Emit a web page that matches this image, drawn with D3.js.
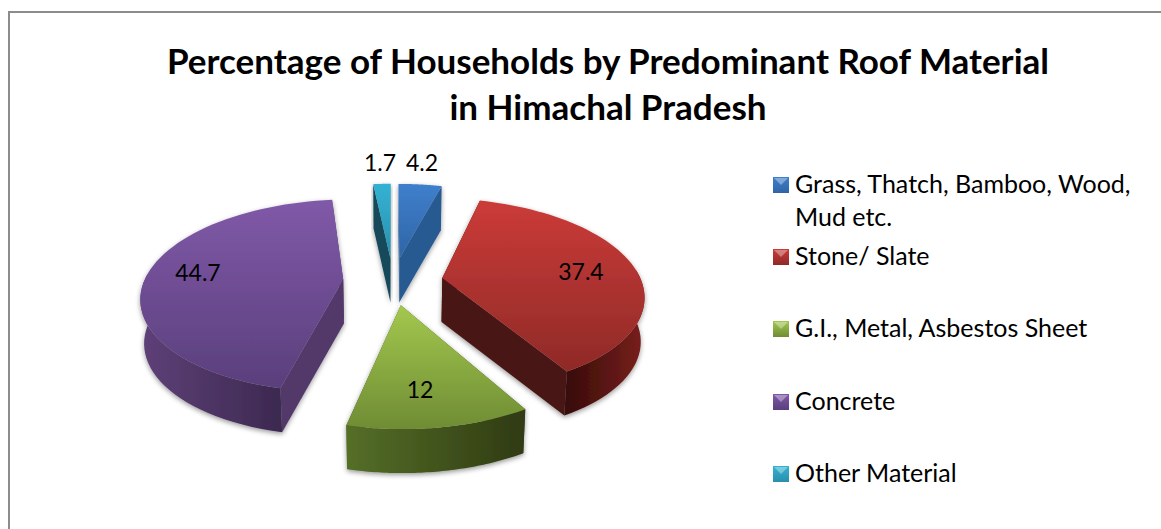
<!DOCTYPE html>
<html>
<head>
<meta charset="utf-8">
<script src="https://cdnjs.cloudflare.com/ajax/libs/d3/7.8.5/d3.min.js"></script>
<style>
  html, body { margin: 0; padding: 0; background: #fff; }
  svg { display: block; }
  text { font-family: Lato, "Open Sans", sans-serif; fill: #000; }
</style>
</head>
<body>
<div id="chart"></div>
<script>
var titleLines = ["Percentage of Households by Predominant Roof Material", "in Himachal Pradesh"];
var categories = ["Grass, Thatch, Bamboo, Wood, Mud etc.", "Stone/ Slate", "G.I., Metal, Asbestos Sheet", "Concrete", "Other Material"];
var values = [4.2, 37.4, 12, 44.7, 1.7];
var legendLines = [["Grass, Thatch, Bamboo, Wood,", "Mud etc."], ["Stone/ Slate"], ["G.I., Metal, Asbestos Sheet"], ["Concrete"], ["Other Material"]];
// top light, top dark, wall left, wall right, cut face
var colors = [
  ["#3f7fcc", "#2f65a6", "#2c6299", "#234b78", "#285a90"],
  ["#cb3b38", "#8f2a27", "#360b09", "#7a201c", "#4a1512"],
  ["#a3c84e", "#6f8c34", "#556f28", "#2f3a12", "#3f5219"],
  ["#8059a8", "#5a3f7c", "#5e4078", "#3c2950", "#52376b"],
  ["#33b2d4", "#2a8fab", "#1d6277", "#123f4d", "#164a5a"]
];

var width = 1161, height = 529;
var cx = 393, cy = 281, radius = 199, explode = 50, depth = 44;
var tilt = 0.472, persp = 0.000838, baseShrink = 0.985;

var svg = d3.select("#chart").append("svg")
    .attr("width", width).attr("height", height)
    .attr("viewBox", "0 0 " + width + " " + height);

var defs = svg.append("defs");

// frame, only left and top edges are inside the crop
svg.append("path")
    .attr("d", "M9," + height + "V12H" + width)
    .attr("fill", "none").attr("stroke", "#8c8c8c").attr("stroke-width", 2);

svg.selectAll("text.title")
    .data(titleLines).enter().append("text")
    .attr("class", "title")
    .attr("x", 608)
    .attr("y", function(d, i){ return 74 + i * 46; })
    .attr("text-anchor", "middle")
    .attr("font-size", 35)
    .attr("font-weight", 700)
    .text(function(d){ return d; });

var shadow = defs.append("filter").attr("id", "shadow")
    .attr("x", "-10%").attr("y", "-10%").attr("width", "120%").attr("height", "125%");
shadow.append("feDropShadow")
    .attr("dx", 0).attr("dy", 2).attr("stdDeviation", 2.5)
    .attr("flood-color", "#000").attr("flood-opacity", 0.4);

colors.forEach(function(c, i){
  var top = defs.append("linearGradient").attr("id", "top" + i)
      .attr("x1", 0).attr("y1", 0).attr("x2", 0).attr("y2", 1);
  top.append("stop").attr("offset", "0%").attr("stop-color", c[0]);
  top.append("stop").attr("offset", "100%").attr("stop-color", c[1]);
  var wall = defs.append("linearGradient").attr("id", "wall" + i)
      .attr("x1", 0).attr("y1", 0).attr("x2", 1).attr("y2", 0);
  wall.append("stop").attr("offset", "0%").attr("stop-color", c[2]);
  wall.append("stop").attr("offset", "100%").attr("stop-color", c[3]);
});

// flat pie coordinates to screen, with a little perspective toward the viewer
function project(u, v, base){
  var s = 1 / (1 - v * persp);
  var x = u * s * (base ? baseShrink : 1);
  return [cx + x, cy + v * tilt * s + (base ? depth : 0)];
}

var pie = d3.pie().sort(null).value(function(d){ return d.value; });
var slices = pie(values.map(function(v, i){ return {value: v, index: i}; }));

slices.forEach(function(d){
  var mid = (d.startAngle + d.endAngle) / 2;
  d.ox = Math.sin(mid) * explode;
  d.oy = -Math.cos(mid) * explode;
  d.rim = d3.range(0, 61).map(function(k){
    return d.startAngle + (d.endAngle - d.startAngle) * k / 60;
  });
  // the outer wall only shows on the side facing the viewer
  d.frontRim = d.rim.filter(function(a){ return Math.cos(a) < 0.1; });
});

function rimPoint(d, a, base){
  return project(d.ox + Math.sin(a) * radius, d.oy - Math.cos(a) * radius, base);
}

var line = d3.line();

// back slices first
var order = slices.slice().sort(function(a, b){ return a.oy - b.oy; });

var groups = svg.selectAll("g.slice")
    .data(order).enter().append("g")
    .attr("class", "slice")
    .attr("filter", "url(#shadow)");

// the two cut faces
[0, 1].forEach(function(side){
  groups.append("path")
    .attr("fill", function(d){ return colors[d.data.index][4]; })
    .attr("d", function(d){
      var a = side ? d.endAngle : d.startAngle;
      return line([
        project(d.ox, d.oy, false), rimPoint(d, a, false),
        rimPoint(d, a, true), project(d.ox, d.oy, true)
      ]) + "Z";
    });
});

groups.filter(function(d){ return d.frontRim.length > 1; }).append("path")
    .attr("fill", function(d){ return "url(#wall" + d.data.index + ")"; })
    .attr("d", function(d){
      var front = d.frontRim.map(function(a){ return rimPoint(d, a, false); });
      var back = d.frontRim.map(function(a){ return rimPoint(d, a, true); }).reverse();
      return line(front.concat(back)) + "Z";
    });

groups.append("path")
    .attr("fill", function(d){ return "url(#top" + d.data.index + ")"; })
    .attr("d", function(d){
      var pts = d.rim.map(function(a){ return rimPoint(d, a, false); });
      pts.unshift(project(d.ox, d.oy, false));
      return line(pts) + "Z";
    });

// value labels
var labelPos = [[422, 163], [581, 272], [420, 390], [198, 273], [380, 163]];
svg.selectAll("text.value")
    .data(slices).enter().append("text")
    .attr("class", "value")
    .attr("x", function(d){ return labelPos[d.data.index][0]; })
    .attr("y", function(d){ return labelPos[d.data.index][1] + 8; })
    .attr("text-anchor", "middle")
    .attr("font-size", 23)
    .text(function(d){ return d.data.value; });

// legend
var legendRows = [185, 257, 329, 402, 474];
var legend = svg.selectAll("g.legend")
    .data(categories).enter().append("g")
    .attr("class", "legend")
    .attr("transform", function(d, i){ return "translate(773," + legendRows[i] + ")"; });

legend.append("rect")
    .attr("x", 0).attr("y", -8).attr("width", 16).attr("height", 16)
    .attr("fill", function(d, i){ return "url(#top" + i + ")"; });
legend.append("path")
    .attr("d", "M1,-7H15L8,0Z")
    .attr("fill", "#fff").attr("opacity", 0.35);

legend.each(function(d, i){
  d3.select(this).selectAll("text")
    .data(legendLines[i]).enter().append("text")
    .attr("x", 22)
    .attr("y", function(t, j){ return 8 + j * 33; })
    .attr("font-size", 25)
    .text(function(t){ return t; });
});
</script>
</body>
</html>
